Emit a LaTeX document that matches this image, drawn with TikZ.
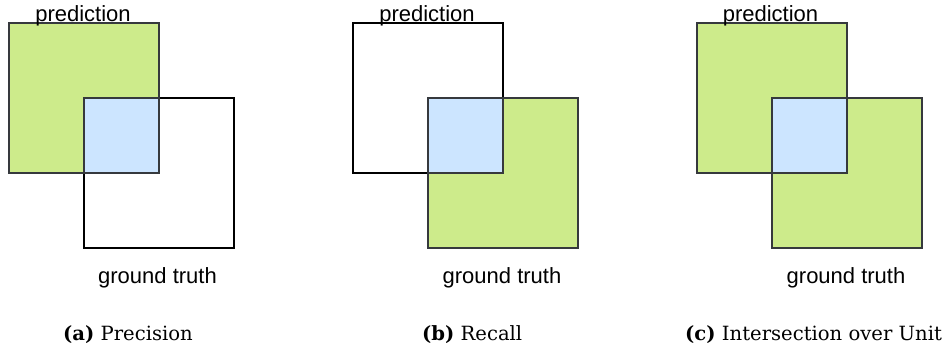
\documentclass[tikz,border=0pt]{standalone}
\usepackage{fontspec}
\setmainfont{DejaVu Serif}
\newfontfamily\labfont{Liberation Sans}
\definecolor{boxgreen}{HTML}{CDEB8B}
\definecolor{boxblue}{HTML}{CCE5FF}
\definecolor{boxgray}{HTML}{36393D}
\begin{document}
\begin{tikzpicture}[x=1pt,y=-1pt,
  sq/.style={rectangle,inner sep=0pt,outer sep=0pt,minimum size=150pt,line width=1.7pt},
  greensq/.style={sq,fill=boxgreen,draw=boxgray},
  emptysq/.style={sq,draw=black},
  isect/.style={rectangle,inner sep=0pt,outer sep=0pt,minimum size=75pt,line width=1.7pt,fill=boxblue,draw=boxgray},
  lab/.style={font=\labfont\fontsize{22}{26}\selectfont,anchor=base,inner sep=0pt},
  captext/.style={font=\fontsize{19.6}{23}\selectfont,anchor=base west,inner sep=0pt}]
\useasboundingbox (0,0) rectangle (947,349);
% panel (a)
\node[greensq] (pa) at (84,98) {};
\node[emptysq] (ga) at (159,173) {};
\node[isect] (ia) at (121.5,135.5) {};
\node[lab] (lpa) at (83,21) {prediction};
\node[lab] (lga) at (157.5,283) {ground truth};
\node[captext] (ca) at (63,340) {\textbf{(a)} Precision};
% panel (b)
\node[emptysq] (pb) at (428,98) {};
\node[greensq] (gb) at (503,173) {};
\node[isect] (ib) at (465.5,135.5) {};
\node[lab] (lpb) at (427,21) {prediction};
\node[lab] (lgb) at (502,283) {ground truth};
\node[captext] (cb) at (422,340) {\textbf{(b)} Recall};
% panel (c)
\node[greensq] (pc) at (772,98) {};
\node[greensq] (gc) at (847,173) {};
\node[isect] (ic) at (809.5,135.5) {};
\node[lab] (lpc) at (770.5,21) {prediction};
\node[lab] (lgc) at (846,283) {ground truth};
\node[captext] (cc) at (685,340) {\textbf{(c)} Intersection over Unit};
\end{tikzpicture}
\end{document}
